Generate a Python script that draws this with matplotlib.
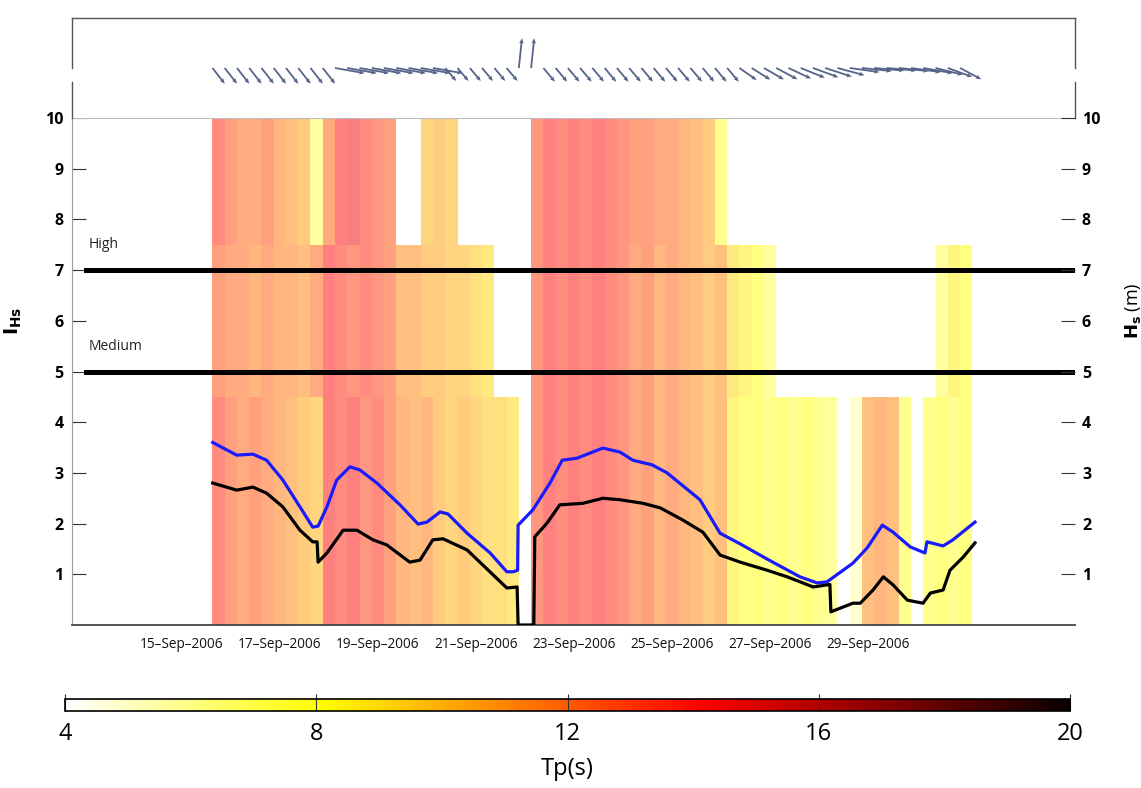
import numpy as np
import pandas as pd
import matplotlib
matplotlib.use('Agg')
import matplotlib.pyplot as plt
import matplotlib.dates as mdates
from matplotlib.lines import Line2D
from matplotlib.cm import ScalarMappable
from matplotlib.colors import Normalize

plt.rcParams['font.family'] = ['Open Sans', 'DejaVu Sans']

nan = np.nan
START = pd.Timestamp('2006-09-01')


def sep(days):
    # day of September (float) -> matplotlib date number
    return mdates.date2num(START + pd.to_timedelta(np.asarray(days, dtype=float) - 1, unit='D'))


# blue line, Hs (m)
hs_day = [15.63, 16.12, 16.45, 16.73, 17.06, 17.41, 17.67, 17.78, 17.96, 18.16, 18.43, 18.63,
          18.98, 19.45, 19.82, 20.00, 20.27, 20.43, 20.82, 21.29, 21.63, 21.76, 21.85, 21.86,
          22.16, 22.51, 22.76, 23.06, 23.59, 23.94, 24.20, 24.59, 24.90, 25.57, 25.98, 26.39,
          26.94, 27.61, 27.96, 28.16, 28.69, 28.98, 29.29, 29.51, 29.86, 30.16, 30.20, 30.53,
          30.73, 31.18]
hs_val = [3.60, 3.35, 3.37, 3.25, 2.86, 2.33, 1.93, 1.95, 2.33, 2.86, 3.12, 3.06,
          2.80, 2.37, 1.99, 2.03, 2.23, 2.19, 1.81, 1.42, 1.05, 1.05, 1.08, 1.97,
          2.27, 2.80, 3.25, 3.29, 3.49, 3.41, 3.25, 3.16, 3.00, 2.47, 1.81, 1.60,
          1.30, 0.95, 0.83, 0.85, 1.22, 1.52, 1.97, 1.83, 1.54, 1.42, 1.64, 1.56,
          1.68, 2.03]

# black line, I_Hs
ihs_day = [15.63, 16.12, 16.45, 16.73, 17.06, 17.41, 17.67, 17.76, 17.78, 17.96, 18.29, 18.57,
           18.90, 19.18, 19.65, 19.86, 20.12, 20.33, 20.82, 21.63, 21.84, 21.86, 22.18, 22.20,
           22.45, 22.71, 23.18, 23.59, 23.94, 24.41, 24.76, 25.22, 25.63, 25.98, 26.39, 26.94,
           27.35, 27.88, 28.22, 28.24, 28.69, 28.84, 29.10, 29.31, 29.51, 29.80, 30.12, 30.27,
           30.53, 30.67, 30.94, 31.18]
ihs_val = [2.80, 2.66, 2.72, 2.60, 2.33, 1.87, 1.64, 1.64, 1.24, 1.42, 1.87, 1.87,
           1.68, 1.58, 1.24, 1.28, 1.68, 1.70, 1.48, 0.73, 0.75, 0.0, 0.0, 1.74,
           2.01, 2.37, 2.40, 2.50, 2.47, 2.40, 2.31, 2.07, 1.83, 1.38, 1.24, 1.08,
           0.95, 0.75, 0.80, 0.26, 0.43, 0.43, 0.69, 0.95, 0.79, 0.49, 0.43, 0.63,
           0.69, 1.08, 1.34, 1.62]

# peak period Tp (s), 6-hourly cells from 15-Sep 15:00, three vertical bands
tp_start = 15.625
tp_low = [13.5, 12.5, 12.0, 12.5, 12.0, 11.5, 11.0, 10.5, 10.0, 14.0,
          13.5, 14.0, 13.0, 13.5, 12.5, 11.5, 11.0, 11.5, 10.5, 10.0,
          10.5, 10.0, 9.5, 9.5, 9.0, nan, 13.0, 14.0, 13.5, 14.0,
          13.5, 14.0, 13.5, 13.0, 12.0, 12.5, 11.5, 12.0, 11.5, 11.0,
          10.5, 11.0, 8.5, 8.0, 8.0, 7.5, 8.0, 7.5, 8.0, 7.5,
          7.0, nan, 5.5, 11.0, 11.5, 11.0, 7.5, nan, 7.5, 8.0,
          7.5, 8.0]
tp_mid = [12.5, 12.0, 12.0, 11.5, 12.0, 11.5, 11.5, 11.0, 12.0, 14.0,
          13.5, 13.0, 13.5, 13.0, 12.5, 11.0, 11.0, 10.5, 10.5, 10.0,
          10.0, 9.5, 9.0, nan, nan, nan, 13.0, 14.0, 13.5, 14.0,
          13.5, 14.0, 13.5, 13.0, 12.0, 12.5, 11.5, 12.0, 11.5, 11.0,
          10.5, 11.0, 9.0, 8.5, 8.0, 7.0, nan, nan, nan, nan,
          nan, nan, nan, nan, nan, nan, nan, nan, nan, 7.0,
          8.5, 8.0]
tp_high = [13.5, 12.5, 12.0, 12.0, 12.5, 11.5, 11.0, 10.5, 7.0, 12.0,
           14.0, 14.5, 13.5, 13.0, 12.5, nan, nan, 10.0, 10.5, 10.0,
           nan, nan, nan, nan, nan, nan, 13.0, 14.0, 13.5, 14.0,
           13.5, 14.0, 13.5, 13.0, 12.5, 12.5, 12.0, 12.0, 11.5, 11.0,
           10.5, 7.5, nan, nan, nan, nan, nan, nan, nan, nan,
           nan, nan, nan, nan, nan, nan, nan, nan, nan, nan,
           nan, nan]
band_edges = [0, 4.5, 7.5, 10]

# wave direction sticks (screen angle deg, length px), same 6-hourly times
stick_ang = [-52, -52, -52, -52, -52, -52, -52, -52, -52, -52,
             -10, -10, -10, -10, -10, -10, -10, -10, -10, -50,
             -50, -50, -50, -50, -50, 84, 84, -50, -50, -50,
             -50, -50, -50, -50, -50, -50, -50, -50, -50, -50,
             -50, -50, -50, -35, -32, -30, -28, -25, -22, -20,
             -18, -15, -8, -6, -5, -5, -6, -8, -10, -14,
             -20, -28]
stick_len = [20, 20, 20, 20, 20, 20, 20, 20, 20, 20,
             30, 30, 30, 30, 30, 30, 30, 30, 30, 17,
             17, 17, 17, 17, 17, 30, 30, 18, 18, 18,
             18, 18, 18, 18, 18, 18, 18, 18, 18, 18,
             18, 18, 18, 21, 22, 23, 24, 25, 26, 27,
             28, 28, 30, 30, 30, 30, 30, 30, 30, 28,
             26, 24]

date_ticks = [15, 17, 19, 21, 23, 25, 27, 29]
xlim_days = (12.76, 33.22)

W, H = 1141, 788
fig = plt.figure(figsize=(W / 100, H / 100), dpi=100)

L, R = 72, 1075
ax = fig.add_axes([L / W, 1 - 625 / H, (R - L) / W, (625 - 118) / H])
ax_top = fig.add_axes([L / W, 1 - 118 / H, (R - L) / W, 100 / H])
cax = fig.add_axes([65 / W, 1 - 711 / H, 1005 / W, 12 / H])

# --- Tp bands ---
n = len(tp_low)
x_edges = sep(tp_start + 0.25 * np.arange(n + 1))
Z = np.ma.masked_invalid(np.array([tp_low, tp_mid, tp_high]))
ax.pcolormesh(x_edges, band_edges, Z, cmap='hot_r', vmin=4, vmax=20,
              alpha=0.5, shading='flat', edgecolors='none', zorder=1)

# thresholds
ax.axhline(7, xmin=14 / 1003, xmax=1, color='black', lw=3.6, zorder=3)
ax.axhline(5, xmin=14 / 1003, xmax=1, color='black', lw=3.6, zorder=3)
ax.text(sep(13.09), 7.5, 'High', fontsize=10, color='#222222', va='center', zorder=4)
ax.text(sep(13.09), 5.5, 'Medium', fontsize=10, color='#222222', va='center', zorder=4)

ax.plot(sep(hs_day), hs_val, color='#1a1aff', lw=2.3, zorder=5)
ax.plot(sep(ihs_day), ihs_val, color='black', lw=2.3, zorder=5)

ax.set_xlim(sep(xlim_days[0]), sep(xlim_days[1]))
ax.set_ylim(0, 10)
ax.set_yticks(range(1, 11))
ax.tick_params(axis='y', direction='in', length=10, pad=6, labelsize=11.5, color='#333333')
for lab in ax.get_yticklabels():
    lab.set_fontweight('bold')
ax.set_xticks(sep(date_ticks))
ax.xaxis.set_major_formatter(mdates.DateFormatter('%d\u2013%b\u2013%Y'))
ax.tick_params(axis='x', length=0, pad=9, labelsize=9.8, labelcolor='#111111')
ax.set_ylabel(r'$\mathbf{I_{Hs}}$', fontsize=14)
ax.yaxis.set_label_coords(-0.048, 0.6)
ax.spines['right'].set_visible(False)
ax.spines['top'].set_color('#bbbbbb')
ax.spines['left'].set_color('#999999')
ax.spines['bottom'].set_color('#444444')
ax.spines['bottom'].set_linewidth(1.3)

ax2 = ax.twinx()
ax2.set_ylim(0, 10)
ax2.set_yticks(range(1, 11))
ax2.tick_params(axis='y', direction='in', length=10, pad=5, labelsize=11.5, color='#333333')
for lab in ax2.get_yticklabels():
    lab.set_fontweight('bold')
for s in ax2.spines.values():
    s.set_visible(False)
ax2.set_ylabel(r'$\mathbf{H_s}$ (m)', fontsize=13, rotation=90)
ax2.yaxis.set_label_coords(1.048, 0.62)

# --- top panel: direction sticks ---
t_st = sep(tp_start + 0.25 * np.arange(n))
a = np.deg2rad(stick_ang)
u = np.array(stick_len) * np.cos(a)
v = np.array(stick_len) * np.sin(a)
ax_top.quiver(t_st, np.zeros(n), u, v, angles='uv', scale_units='dots', scale=1,
              units='dots', width=1.8, headwidth=2.5, headlength=3, headaxislength=2.6,
              color='#56648a', pivot='tail')
ax_top.set_xlim(ax.get_xlim())
ax_top.set_ylim(-1, 1)
ax_top.set_xticks([])
ax_top.set_yticks([])
for s in ax_top.spines.values():
    s.set_visible(False)
frame = dict(color='#555555', lw=1, transform=ax_top.transAxes, clip_on=False)
ax_top.add_line(Line2D([0, 1], [1, 1], **frame))
for xs in (0, 1):
    ax_top.add_line(Line2D([xs, xs], [1, 0.50], **frame))
    ax_top.add_line(Line2D([xs, xs], [0.36, 0], **frame))

# --- colorbar ---
sm = ScalarMappable(norm=Normalize(4, 20), cmap='hot_r')
cb = fig.colorbar(sm, cax=cax, orientation='horizontal')
cb.set_ticks([4, 8, 12, 16, 20])
cax.tick_params(direction='in', length=12, labelsize=17, pad=8, color='#333333')
cb.outline.set_linewidth(1.2)
cb.set_label('Tp(s)', fontsize=17, labelpad=8)

fig.savefig('out.png', dpi=100)
